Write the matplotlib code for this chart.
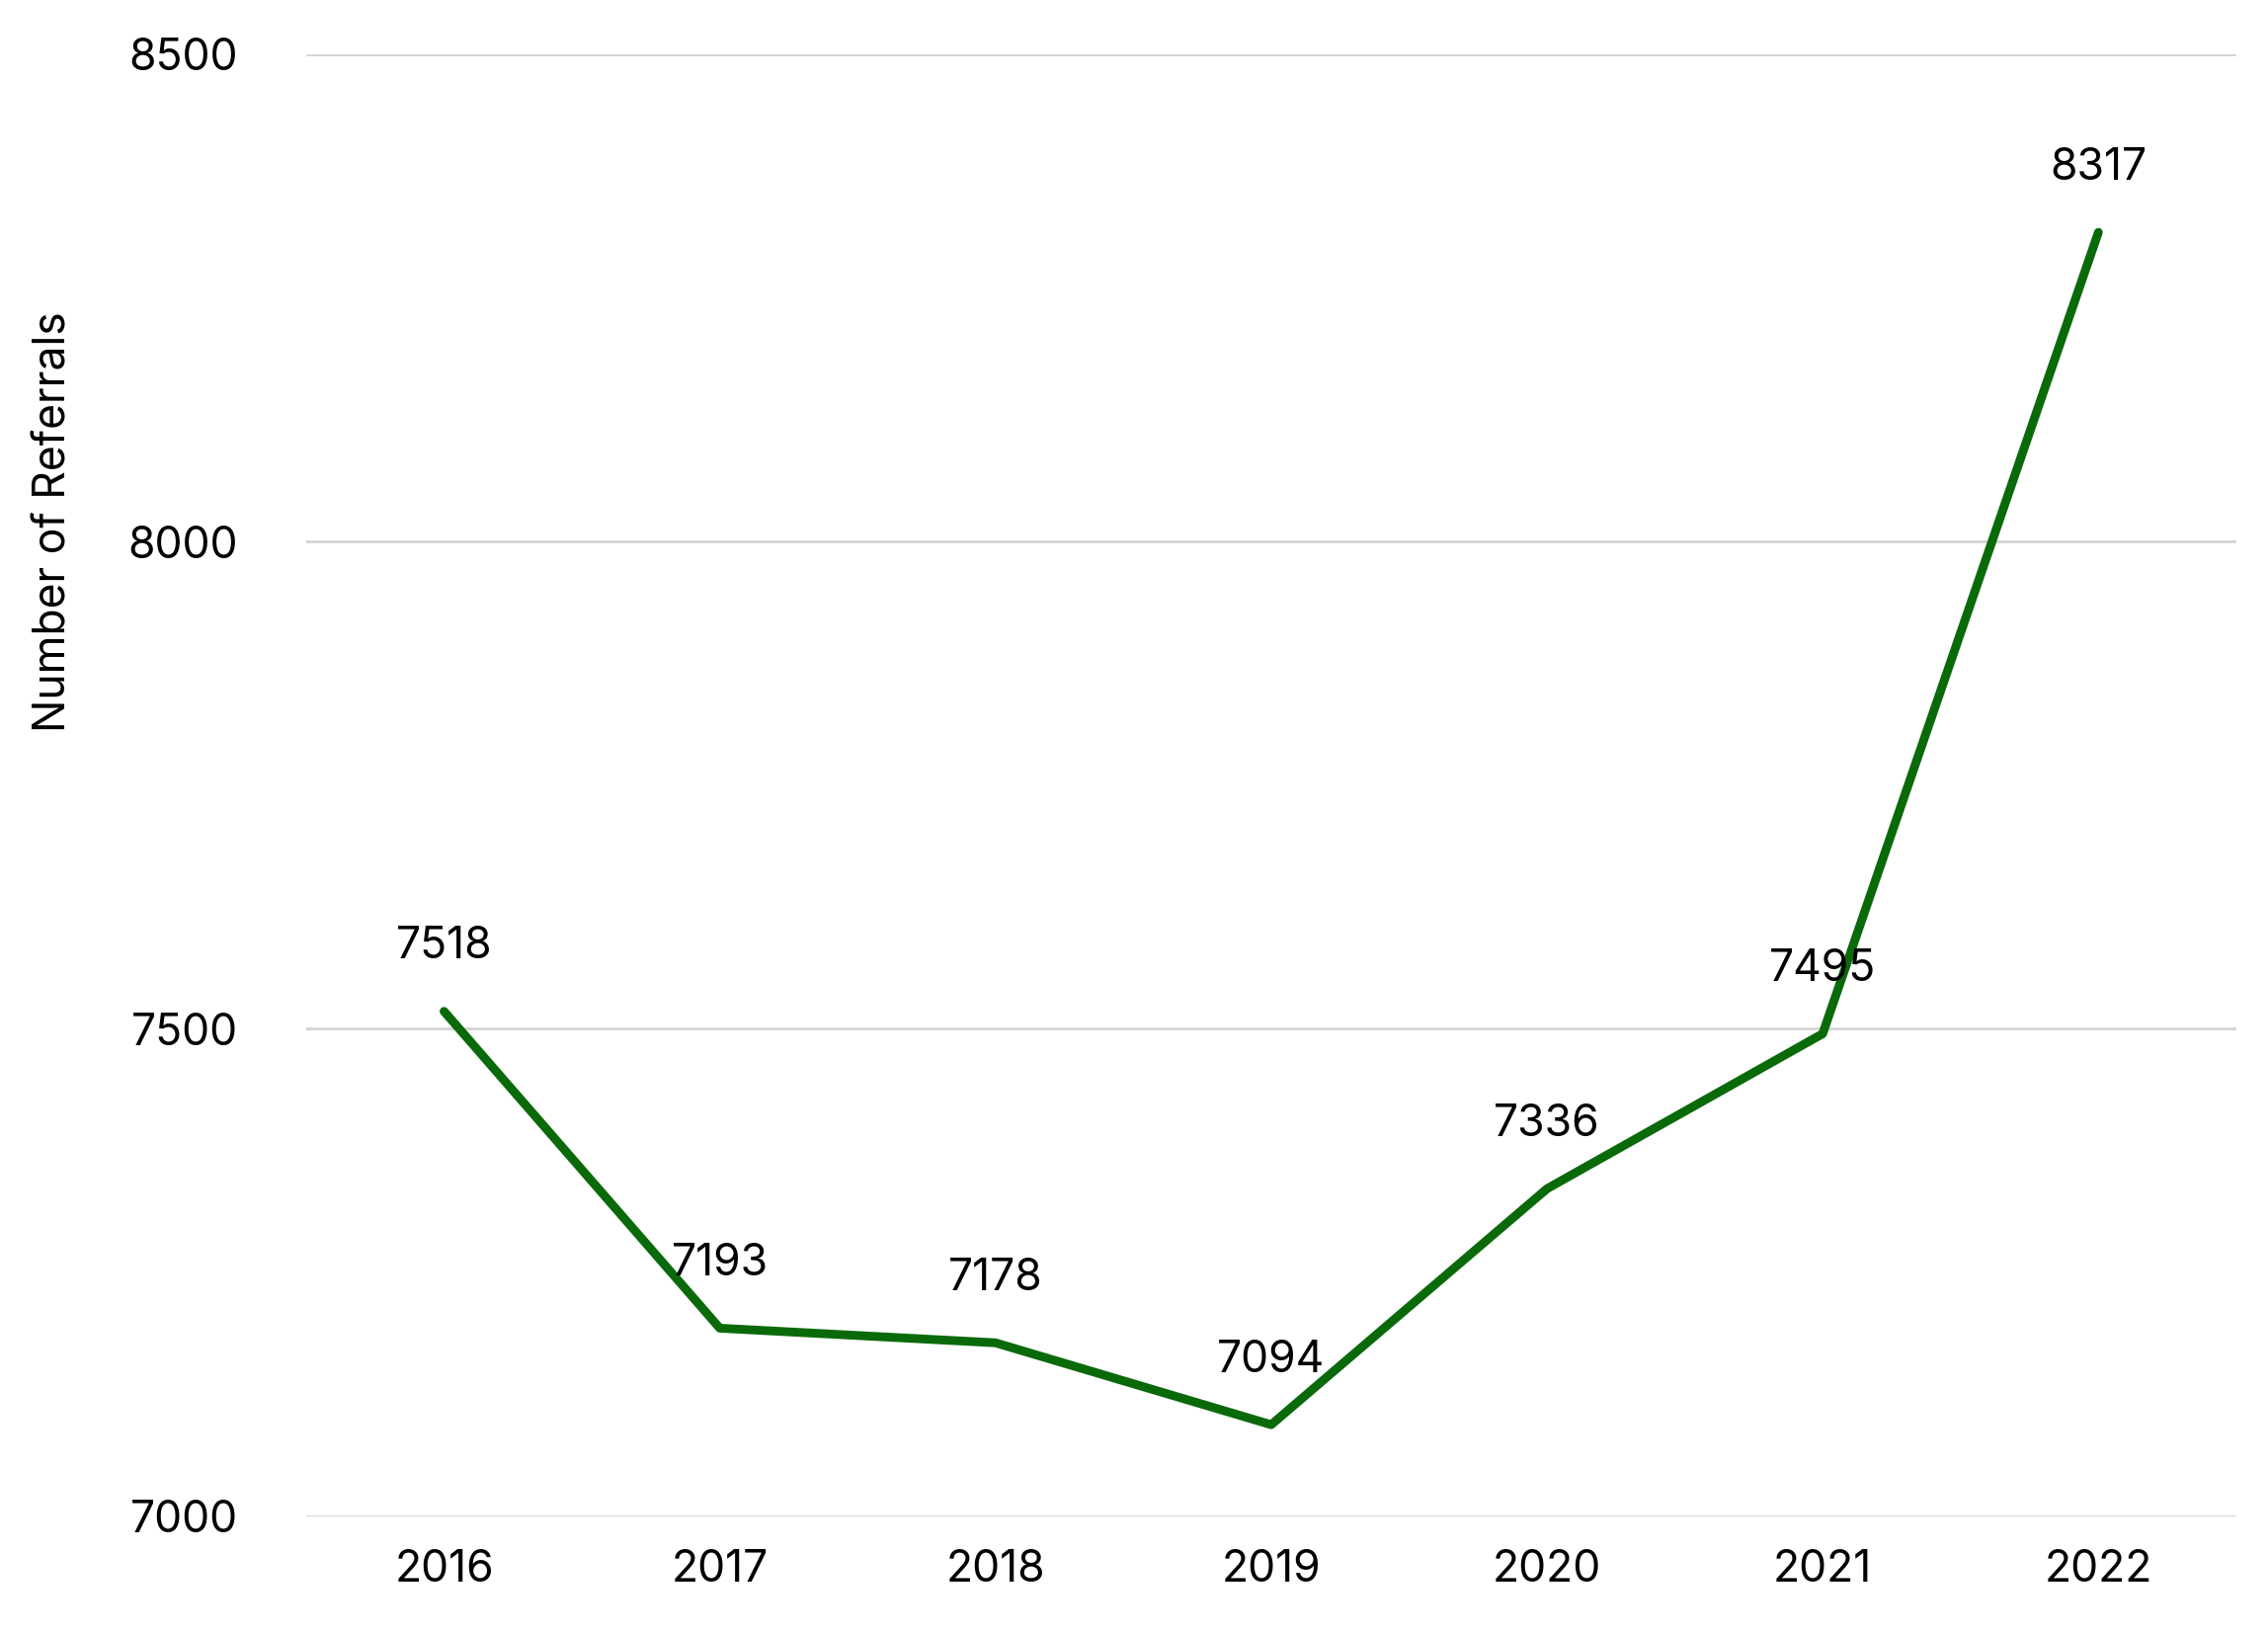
import matplotlib
matplotlib.use("Agg")
import matplotlib.pyplot as plt

years = ["2016", "2017", "2018", "2019", "2020", "2021", "2022"]
referrals = [7518, 7193, 7178, 7094, 7336, 7495, 8317]
yticks = [7000, 7500, 8000, 8500]

plt.rcParams['font.family'] = ['Inter', 'DejaVu Sans']
fig = plt.figure(figsize=(11.48, 8.27), dpi=200)
ax = fig.add_axes([0.135, 0.072, 0.851, 0.895])
x = list(range(len(years)))
ax.plot(x, referrals, color='#0a6a0a', lw=3.2, solid_capstyle='round', zorder=3)
for xi, v in zip(x, referrals):
    ax.annotate(str(v), (xi, v), xytext=(0, 16), textcoords='offset points',
                ha='center', va='bottom', fontsize=16)
ax.set_xlim(-0.5, 6.5)
ax.set_ylim(7000, 8500)
ax.set_xticks(x)
ax.set_xticklabels(years)
ax.set_yticks(yticks)
ax.set_yticklabels([str(t) for t in yticks])
ax.tick_params(axis='both', length=0, labelsize=16, pad=12)
ax.tick_params(axis='y', pad=25)
ax.grid(axis='y', color='#d4d4d4', lw=1)
ax.set_axisbelow(True)
for s in ax.spines.values():
    s.set_visible(False)
ax.set_ylabel("Number of Referrals", fontsize=16)
ax.yaxis.set_label_coords(-0.12, 0.68)
fig.savefig("out.png", dpi=200)
